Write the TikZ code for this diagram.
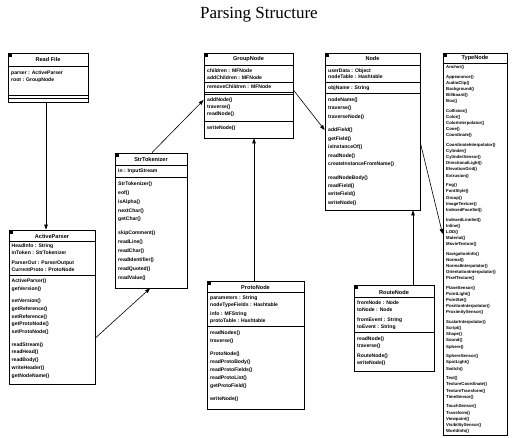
\documentclass[tikz,border=0pt]{standalone}
\usepackage{fontspec}
\setmainfont{Liberation Serif}
\newfontfamily\umlfont{Liberation Sans}
\usetikzlibrary{arrows.meta}

\begin{document}
\begin{tikzpicture}[
  x=1pt, y=-1pt,
  cls/.style={draw, line width=0.8pt, inner sep=0pt},
  hdr/.style={font=\umlfont\bfseries\fontsize{5.6}{6}\selectfont, inner sep=0pt},
  memb/.style={font=\umlfont\bfseries\fontsize{5.1}{#1}\selectfont,
               align=left, anchor=north west, inner sep=0pt},
  typelist/.style={memb=#1, font=\umlfont\bfseries\fontsize{4.3}{#1}\selectfont},
  icon/.style={fill=black, minimum width=3pt, minimum height=2.6pt,
               inner sep=0pt, anchor=north west},
  sep/.style={line width=0.6pt},
  link/.style={line width=0.6pt, -{Triangle[length=5pt, width=3.6pt]}}
]
  \useasboundingbox (0,0) rectangle (513,438);

  % Title
  \node[font=\fontsize{17}{20}\selectfont] (title) at (259,15) {Parsing Structure};

  % Class boxes
  \node[cls, minimum width=80pt,  minimum height=49pt]  (readfile) at (48,77.5)    {};
  \node[cls, minimum width=86pt,  minimum height=154pt] (active)   at (52,307)     {};
  \node[cls, minimum width=72pt,  minimum height=135pt] (strtok)   at (151,220.5)  {};
  \node[cls, minimum width=89pt,  minimum height=85pt]  (group)    at (248.5,95.5) {};
  \node[cls, minimum width=95pt,  minimum height=157pt] (node)     at (372.5,131.5){};
  \node[cls, minimum width=97pt,  minimum height=128pt] (proto)    at (255.5,345)  {};
  \node[cls, minimum width=80pt,  minimum height=86pt]  (route)    at (394,328)    {};
  \node[cls, minimum width=64pt,  minimum height=382pt] (types)    at (475,244)    {};

  % little class icons in the corners
  \foreach \n in {readfile, active, strtok, group, node, proto, route, types}{
    \node[icon] (\n-ic) at ([shift={(1.5pt,-1.5pt)}]\n.north west) {};
  }

  % Compartment lines
  \foreach \n/\y in {readfile/66, readfile/95, readfile/98,
                     active/241, active/275,
                     strtok/165, strtok/177,
                     group/65, group/82.5, group/92, group/94, group/121.5,
                     node/65, node/82.5, node/93,
                     proto/292, proto/326,
                     route/297, route/332,
                     types/63}{
    \draw[sep] (\n.west |- 0,\y) -- (\n.east |- 0,\y);
  }

  % Read File
  \node[hdr] (readfile-hd) at (48,60) {Read File};
  \node[memb=7] (readfile-at) at (11,70.5) {parser : ActiveParser\\root : GroupNode};

  % ActiveParser
  \node[hdr] (active-hd) at (52,236) {ActiveParser};
  \node[memb=7] (active-at) at (11.5,243.5)
    {HeadInfo : String\\inToken : StrTokenizer\\[3pt]
     ParserOut : ParserOutput\\CurrentProto : ProtoNode};
  \node[memb=7.8] (active-op) at (11.5,278.5)
    {ActiveParser()\\getVersion()\\[4.6pt]
     setVersion()\\getReference()\\setReference()\\getProtoNode()\\setProtoNode()\\[4.6pt]
     readStream()\\readHead()\\readBody()\\writeHeader()\\getNodeName()};

  % StrTokenizer
  \node[hdr] (strtok-hd) at (151,159) {StrTokenizer};
  \node[memb=7] (strtok-at) at (118,168.5) {in : InputStream};
  \node[memb=8.9] (strtok-op) at (118,181.5)
    {StrTokenizer()\\eof()\\isAlpha()\\nextChar()\\getChar()\\[5pt]
     skipComment()\\readLine()\\readChar()\\readIdentifier()\\readQuoted()\\readValue()};

  % GroupNode
  \node[hdr] (group-hd) at (248.5,59) {GroupNode};
  \node[memb=7] (group-at) at (207,68.5) {children : MFNode\\addChildren : MFNode};
  \node[memb=7] (group-at2) at (207,85) {removeChildren : MFNode};
  \node[memb=7] (group-op) at (207,97.5) {addNode()\\traverse()\\readNode()};
  \node[memb=7] (group-op2) at (207,125.5) {writeNode()};

  % Node
  \node[hdr] (node-hd) at (372.5,59) {Node};
  \node[memb=6.5] (node-at) at (328,68.5) {userData : Object\\nodeTable : Hashtable};
  \node[memb=7] (node-at2) at (328,85.5) {objName : String};
  \node[memb=8.4] (node-op) at (328,97.5)
    {nodeName()\\traverse()\\traverseNode()\\[5.3pt]
     addField()\\getField()\\isInstanceOf()\\readNode()\\createInstanceFromName()\\[5.3pt]
     readNodeBody()\\readField()\\writeField()\\writeNode()};

  % ProtoNode
  \node[hdr] (proto-hd) at (255.5,287) {ProtoNode};
  \node[memb=7] (proto-at) at (210,295.5)
    {parameters : String\\nodeTypeFields : Hashtable\\[2pt]
     info : MFString\\protoTable : Hashtable};
  \node[memb=8] (proto-op) at (210,330.5)
    {readNodes()\\traverse()\\[5pt]
     ProtoNode()\\readProtoBody()\\readProtoFields()\\readProtoList()\\getProtoField()\\[5pt]
     writeNode()};

  % RouteNode
  \node[hdr] (route-hd) at (394,292) {RouteNode};
  \node[memb=7] (route-at) at (357,300.5)
    {fromNode : Node\\toNode : Node\\[3pt]fromEvent : String\\toEvent : String};
  \node[memb=7] (route-op) at (357,336.5)
    {readNode()\\traverse()\\[3pt]RouteNode()\\writeNode()};

  % TypeNode, one method per VRML node type
  \node[hdr] (types-hd) at (475,58.5) {TypeNode};
  \node[typelist=6.1] (types-op) at (446,65)
    {Anchor()\\[3.7pt]
     Appearance()\\AudioClip()\\Background()\\Billboard()\\Box()\\[3.7pt]
     Collision()\\Color()\\ColorInterpolator()\\Cone()\\Coordinate()\\[3.7pt]
     CoordinateInterpolator()\\Cylinder()\\CylinderSensor()\\DirectionalLight()\\ElevationGrid()\\Extrusion()\\[3.7pt]
     Fog()\\FontStyle()\\Group()\\ImageTexture()\\IndexedFaceSet()\\[3.7pt]
     IndexedLineSet()\\Inline()\\LOD()\\Material()\\MovieTexture()\\[3.7pt]
     NavigationInfo()\\Normal()\\NormalInterpolator()\\OrientationInterpolator()\\PixelTexture()\\[3.7pt]
     PlaneSensor()\\PointLight()\\PointSet()\\PositionInterpolator()\\ProximitySensor()\\[3.7pt]
     ScalarInterpolator()\\Script()\\Shape()\\Sound()\\Sphere()\\[3.7pt]
     SphereSensor()\\SpotLight()\\Switch()\\[3.7pt]
     Text()\\TextureCoordinate()\\TextureTransform()\\TimeSensor()\\[3.7pt]
     TouchSensor()\\Transform()\\Viewpoint()\\VisibilitySensor()\\WorldInfo()};

  % Connectors
  \coordinate (rf-out) at (46,102);
  \draw[link] (rf-out) -- (rf-out |- active.north);
  \draw[link] (active.east |- 0,338) -- (150,0 |- strtok.south);
  \draw[link] (152,0 |- strtok.north) -- (group.west |- 0,100);
  \draw[link] (254,0 |- proto.north) -- (254,0 |- group.south);
  \draw[link] (group.east |- 0,90) -- (node.west |- 0,130);
  \draw[link] (413,0 |- route.north) -- (413,0 |- node.south);
  \draw[link] (node.east |- 0,143) -- (types.west |- 0,234);
\end{tikzpicture}
\end{document}
